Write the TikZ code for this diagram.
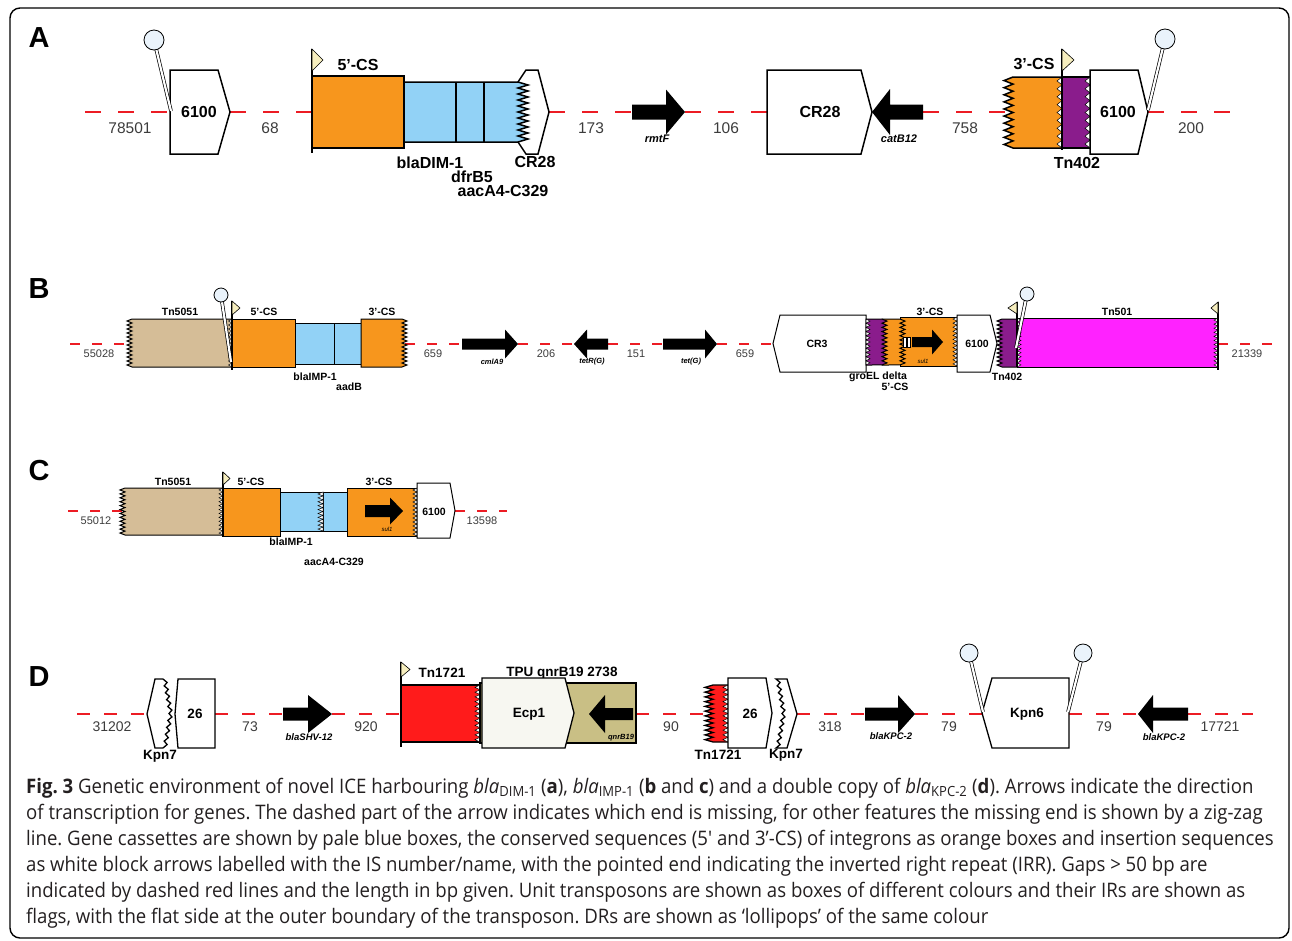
\documentclass[tikz,border=0pt]{standalone}
\usepackage{fontspec}
\setmainfont{Liberation Sans}
\newfontfamily\capfont[FakeStretch=0.93]{Open Sans}

\definecolor{gapred}{HTML}{EC1C24}
\definecolor{csorange}{HTML}{F7961D}
\definecolor{casblue}{HTML}{92D2F6}
\definecolor{tnpurple}{HTML}{8A1C8C}
\definecolor{tnmagenta}{HTML}{FF22FF}
\definecolor{tntan}{HTML}{D5BD97}
\definecolor{tnred}{HTML}{FF1B1B}
\definecolor{tpuolive}{HTML}{C9BF85}
\definecolor{flagyellow}{HTML}{F6EEBE}
\definecolor{lollifill}{HTML}{EAF3FB}
\definecolor{ecpwhite}{HTML}{F7F7F1}
\definecolor{numgray}{HTML}{3C3C3C}
\definecolor{capgray}{HTML}{231F20}

\tikzset{
  gapA/.style={draw=gapred, line width=2.4pt, dash pattern=on 16pt off 17pt},
  gapB/.style={draw=gapred, line width=1.8pt, dash pattern=on 10pt off 12pt},
  gapD/.style={draw=gapred, line width=2.4pt, dash pattern=on 13pt off 14pt},
  csbox/.style={fill=csorange, draw=black},
  cassette/.style={fill=casblue, draw=black},
  isst/.style={fill=white, draw=black},
  genest/.style={fill=black},
  teethst/.style={fill=white, draw=black, line width=0.5pt},
  flagpole/.style={draw=black, line width=1.6pt},
  flagst/.style={fill=flagyellow, draw=black, line width=0.6pt},
  lollistick/.style={draw=black, double=white, double distance=2.2pt, line width=0.7pt},
  lollist/.style={fill=lollifill, draw=black, line width=0.8pt},
  panel/.style={font=\fontsize{29}{31}\selectfont\bfseries},
  lblA/.style={font=\fontsize{16}{18}\selectfont\bfseries},
  numA/.style={font=\fontsize{15.5}{17}\selectfont, text=numgray},
  geneA/.style={font=\fontsize{11}{12}\selectfont\bfseries\itshape},
  lblB/.style={font=\fontsize{10.5}{12}\selectfont\bfseries},
  numB/.style={font=\fontsize{11}{12}\selectfont, text=numgray},
  geneB/.style={font=\fontsize{7.5}{8}\selectfont\bfseries\itshape},
  lblD/.style={font=\fontsize{13.5}{15}\selectfont\bfseries},
  numD/.style={font=\fontsize{14}{16}\selectfont, text=numgray},
  geneD/.style={font=\fontsize{9.5}{10}\selectfont\bfseries\itshape},
  captext/.style={font=\capfont\fontsize{20}{26}\selectfont\frenchspacing, text=capgray, align=left}
}

% zigzag edge: amplitude, half step, teeth
\newcommand{\zz}[3]{\foreach \k in {1,...,#3}{ -- ++(#1,#2) -- ++({-(#1)},#2)}}
% slanted zigzag: amplitude, half step, teeth, slant
\newcommand{\zzs}[4]{\foreach \k in {1,...,#3}{ -- ++({#1+#4},#2) -- ++({-(#1)+#4},#2)}}
\newcommand{\teeth}[5]{\filldraw[teethst] (#1,#2) \zz{#4}{#5}{#3} -- cycle;}
\newcommand{\isel}[6][]{\filldraw[isst,#1] (#2,#5) -- (#3,#5) -- (#4,{(#5+#6)/2}) -- (#3,#6) -- (#2,#6) -- cycle;}
\newcommand{\gene}[6]{\fill[genest] (#1,{#4-#5}) -- (#2,{#4-#5}) -- (#2,{#4-#6}) -- (#3,#4) -- (#2,{#4+#6}) -- (#2,{#4+#5}) -- (#1,{#4+#5}) -- cycle;}
\newcommand{\flag}[5]{\draw[flagpole] (#1,#2) -- (#1,#3); \filldraw[flagst] (#1,#2) -- ++(#4,{#5/2}) -- ++({-(#4)},{#5/2}) -- cycle;}
\newcommand{\lolli}[5]{\draw[lollistick] (#1,#2) -- (#3,#4); \filldraw[lollist] (#3,#4) circle (#5pt);}

\begin{document}
\begin{tikzpicture}[x=1pt,y=-1pt]
  \useasboundingbox (0,0) rectangle (1292,940);
  \draw[line width=1.4pt, rounded corners=10pt] (10,8) rectangle (1289,938);

  % ---- A ----
  \node[panel] (pA) at (39,38) {A};
  \coordinate (a0) at (85,112);   \coordinate (a1) at (171,112);
  \coordinate (a2) at (230,112);  \coordinate (a3) at (312,112);
  \coordinate (a4) at (549,112);  \coordinate (a5) at (632,112);
  \coordinate (a6) at (685,112);  \coordinate (a7) at (767,112);
  \coordinate (a8) at (923,112);  \coordinate (a9) at (1005,112);
  \coordinate (a10) at (1148,112); \coordinate (a11) at (1230,112);
  \draw[gapA] (a0) -- (a1);
  \draw[gapA] (a2) -- (a3);
  \draw[gapA] (a4) -- (a5);
  \draw[gapA] (a6) -- (a7);
  \draw[gapA] (a8) -- (a9);
  \draw[gapA] (a10) -- (a11);
  \node[numA] (nA1) at (130,128) {78501};
  \node[numA] (nA2) at (270,128) {68};
  \node[numA] (nA3) at (591,128) {173};
  \node[numA] (nA4) at (726,128) {106};
  \node[numA] (nA5) at (965,128) {758};
  \node[numA] (nA6) at (1191,128) {200};

  \begin{scope}[line width=1.5pt]
    \isel{170}{218}{230}{70}{154}
    \lolli{171}{111}{154}{40}{10}
    \filldraw[csbox] (312,76) rectangle (404,148);
    \flag{312}{49}{153}{11}{22}
    \filldraw[isst] (518,82) -- (526,70) -- (538,70) -- (549,112) -- (538,154) -- (526,154) -- (518,142) -- cycle;
    \filldraw[cassette] (404,82) -- (518,82) \zz{10}{3}{10} -- (404,142) -- cycle;
    \draw (456,82) -- (456,142);
    \draw (484,82) -- (484,142);
    \gene{632}{666}{685}{112}{7.5}{22.5}
    \isel{767}{861}{872}{70}{154}
    \gene{923}{890}{872}{112}{7.5}{23}
    \filldraw[csbox] (1062,77) -- (1013,77) \zz{-9}{3.55}{10} -- (1062,148) -- cycle;
    \teeth{1062}{77}{9}{-5}{3.944}
    \filldraw[fill=tnpurple] (1062,77) rectangle (1090,148);
    \teeth{1090}{77}{9}{-5}{3.944}
    \flag{1062}{49}{150}{12}{22}
    \isel{1090}{1138}{1148}{70}{154}
    \lolli{1148}{110}{1165}{39}{10}
  \end{scope}
  \node[lblA] (isA1) at (199,112) {6100};
  \node[lblA] (csA1) at (358,65) {5'-CS};
  \node[lblA] (gcA1) at (430,163) {blaDIM-1};
  \node[lblA] (gcA2) at (472,177) {dfrB5};
  \node[lblA] (gcA3) at (503,191) {aacA4-C329};
  \node[lblA] (gcA4) at (535,162) {CR28};
  \node[geneA] (gA1) at (657,139) {rmtF};
  \node[lblA] (isA2) at (820,112) {CR28};
  \node[geneA] (gA2) at (899,139) {catB12};
  \node[lblA] (csA2) at (1034,64) {3'-CS};
  \node[lblA] (tnA1) at (1077,163) {Tn402};
  \node[lblA] (isA3) at (1118,112) {6100};

  % ---- B ----
  \node[panel] (pB) at (39,289) {B};
  \coordinate (b0) at (70,344);   \coordinate (b1) at (128,344);
  \coordinate (b2) at (405,344);  \coordinate (b3) at (462,344);
  \coordinate (b4) at (518,344);  \coordinate (b5) at (574,344);
  \coordinate (b6) at (608,344);  \coordinate (b7) at (663,344);
  \coordinate (b8) at (717,344);  \coordinate (b9) at (773,344);
  \coordinate (b10) at (1218,344); \coordinate (b11) at (1275,344);
  \draw[gapB] (b0) -- (b1);
  \draw[gapB] (b2) -- (b3);
  \draw[gapB] (b4) -- (b5);
  \draw[gapB] (b6) -- (b7);
  \draw[gapB] (b8) -- (b9);
  \draw[gapB] (b10) -- (b11);
  \node[numB] (nB1) at (99,354) {55028};
  \node[numB] (nB2) at (433,354) {659};
  \node[numB] (nB3) at (546,354) {206};
  \node[numB] (nB4) at (636,354) {151};
  \node[numB] (nB5) at (745,354) {659};
  \node[numB] (nB6) at (1247,354) {21339};

  \begin{scope}[line width=1pt]
    \filldraw[fill=tntan] (232,319) -- (132,319) \zz{-5}{2}{12} -- (232,367) -- cycle;
    \teeth{232}{319}{12}{-3.5}{2}
    \filldraw[csbox] (232,319) rectangle (295,367);
    \filldraw[cassette] (295,323) rectangle (361,364);
    \draw (334,323) -- (334,364);
    \filldraw[csbox] (361,319) -- (402,319) \zz{5}{2}{12} -- (361,367) -- cycle;
    \flag{232}{301}{370}{8}{14}
    \lolli{231}{362}{221}{295}{7}
    \gene{462}{505}{518}{344}{5.5}{14.5}
    \gene{608}{587}{574}{344}{5.5}{14.5}
    \gene{663}{705}{717}{344}{5.5}{14.5}
    \isel{866}{780}{773}{315}{372}
    \filldraw[csbox] (900,317) rectangle (957,366);
    \filldraw[csbox] (882,319) -- (900,319) \zz{5}{2.09}{11} -- (882,365) -- cycle;
    \filldraw[fill=tnpurple] (866,319) -- (882,319) \zz{5}{2.09}{11} -- (866,365) -- cycle;
    \teeth{866}{319}{11}{4}{2.09}
    \teeth{957}{317}{12}{-4}{2.04}
    \filldraw[fill=white, line width=0.6pt] (903,337) rectangle (906,347);
    \filldraw[fill=white, line width=0.6pt] (907.5,337) rectangle (910.5,347);
    \gene{912}{932}{943}{342}{5}{12.5}
    \isel{957}{990}{997}{315}{372}
    \filldraw[fill=tnpurple] (1017,319) -- (1002,319) \zz{-5}{2}{12} -- (1017,367) -- cycle;
    \filldraw[fill=tnmagenta] (1017,318) rectangle (1218,367);
    \teeth{1017}{318}{12}{4}{2.04}
    \teeth{1218}{318}{12}{-4}{2.04}
    \flag{1017}{302}{367}{-9}{12}
    \flag{1218}{302}{370}{-7}{12}
    \lolli{1016}{348}{1027}{294}{7}
  \end{scope}
  \node[lblB] (tnB1) at (180,312) {Tn5051};
  \node[lblB] (csB1) at (264,312) {5'-CS};
  \node[lblB] (csB2) at (382,312) {3'-CS};
  \node[lblB] (gcB1) at (315,377) {blaIMP-1};
  \node[lblB] (gcB2) at (349,387) {aadB};
  \node[geneB] (gB1) at (492,362) {cmlA9};
  \node[geneB] (gB2) at (592,362) {tetR(G)};
  \node[geneB] (gB3) at (691,362) {tet(G)};
  \node[lblB] (isB1) at (817,344) {CR3};
  \node[lblB] (tnB2) at (878,377) {groEL delta};
  \node[lblB] (csB3) at (895,387) {5'-CS};
  \node[lblB] (csB4) at (930,312) {3'-CS};
  \node[geneB, font=\fontsize{6}{7}\selectfont\itshape] (gB4) at (923,361) {sul1};
  \node[lblB] (isB2) at (977,344) {6100};
  \node[lblB] (tnB3) at (1007,377) {Tn402};
  \node[lblB] (tnB4) at (1117,312) {Tn501};

  % ---- C ----
  \node[panel] (pC) at (39,471) {C};
  \coordinate (c0) at (68,511);  \coordinate (c1) at (124,511);
  \coordinate (c2) at (455,511); \coordinate (c3) at (507,511);
  \draw[gapB] (c0) -- (c1);
  \draw[gapB] (c2) -- (c3);
  \node[numB] (nC1) at (96,521) {55012};
  \node[numB] (nC2) at (482,521) {13598};

  \begin{scope}[line width=1pt]
    \filldraw[fill=tntan] (223,488) -- (125,488) \zz{-5}{1.958}{12} -- (223,535) -- cycle;
    \teeth{223}{488}{12}{-4}{1.958}
    \filldraw[csbox] (223,488) rectangle (280,536);
    \filldraw[cassette] (280,492) rectangle (323,531);
    \filldraw[cassette] (323,492) rectangle (347,531);
    \teeth{323}{492}{10}{-5}{1.95}
    \filldraw[csbox] (347,488) rectangle (417,536);
    \teeth{417}{488}{12}{-4}{2}
    \flag{223}{472}{537}{7}{13}
    \gene{365}{390}{403}{511}{6}{13.5}
    \isel{417}{450}{455}{483}{538}
  \end{scope}
  \node[lblB] (tnC1) at (173,482) {Tn5051};
  \node[lblB] (csC1) at (251,482) {5'-CS};
  \node[lblB] (csC2) at (379,482) {3'-CS};
  \node[lblB] (gcC1) at (291,542) {blaIMP-1};
  \node[lblB] (gcC2) at (334,562) {aacA4-C329};
  \node[geneB, font=\fontsize{6}{7}\selectfont\itshape] (gC1) at (387,529) {sul1};
  \node[lblB] (isC1) at (434,512) {6100};

  % ---- D ----
  \node[panel] (pD) at (39,677) {D};
  \coordinate (d0) at (77,714);   \coordinate (d1) at (147,714);
  \coordinate (d2) at (215,714);  \coordinate (d3) at (283,714);
  \coordinate (d4) at (332,714);  \coordinate (d5) at (400,714);
  \coordinate (d6) at (636,714);  \coordinate (d7) at (705,714);
  \coordinate (d8) at (797,714);  \coordinate (d9) at (865,714);
  \coordinate (d10) at (915,714); \coordinate (d11) at (982,714);
  \coordinate (d12) at (1069,714); \coordinate (d13) at (1138,714);
  \coordinate (d14) at (1188,714); \coordinate (d15) at (1253,714);
  \draw[gapD] (d0) -- (d1);
  \draw[gapD] (d2) -- (d3);
  \draw[gapD] (d4) -- (d5);
  \draw[gapD] (d6) -- (d7);
  \draw[gapD] (d8) -- (d9);
  \draw[gapD] (d10) -- (d11);
  \draw[gapD] (d12) -- (d13);
  \draw[gapD] (d14) -- (d15);
  \node[numD] (nD1) at (112,727) {31202};
  \node[numD] (nD2) at (250,727) {73};
  \node[numD] (nD3) at (366,727) {920};
  \node[numD] (nD4) at (671,727) {90};
  \node[numD] (nD5) at (830,727) {318};
  \node[numD] (nD6) at (949,727) {79};
  \node[numD] (nD7) at (1104,727) {79};
  \node[numD] (nD8) at (1220,727) {17721};
  \node[lblD] (tpD1) at (562,673) {TPU qnrB19 2738};

  \begin{scope}[line width=1.3pt]
    \filldraw[isst] (178,679) -- (215,679) -- (215,748) -- (178,748) -- (175,714) -- cycle;
    \filldraw[isst] (147,714) -- (155,679) -- (163,679) \zzs{3.5}{3.45}{5}{0.6} \zzs{3.5}{3.45}{5}{-0.6} -- (155,748) -- cycle;
    \gene{283}{308}{332}{714}{6.5}{19}
    \filldraw[fill=tnred] (401,685) rectangle (480,742);
    \teeth{480}{685}{12}{-5}{2.375}
    \flag{401}{662}{747}{9}{15}
    \filldraw[fill=tpuolive] (480,683) rectangle (636,743);
    \isel[fill=ecpwhite]{482}{565}{574}{678}{748}
    \gene{633}{605}{589}{714}{6}{19}
    \filldraw[fill=tnred] (728,685) -- (713,685) \zz{-8}{2.375}{12} -- (728,742) -- cycle;
    \teeth{728}{685}{12}{-5}{2.375}
    \isel{728}{766}{772}{678}{748}
    \filldraw[isst] (787,679) -- (797,714) -- (787,748) -- (776,748) \zzs{3.5}{-3.45}{5}{0.6} \zzs{3.5}{-3.45}{5}{-0.6} -- cycle;
    \gene{865}{898}{915}{714}{6.5}{19}
    \isel{1069}{992}{982}{678}{748}
    \lolli{983}{712}{969}{653}{9}
    \lolli{1068}{712}{1083}{653}{9}
    \gene{1188}{1153}{1138}{714}{6.5}{19}
  \end{scope}
  \node[lblD] (isD1) at (195,714) {26};
  \node[lblD] (isD2) at (160,756) {Kpn7};
  \node[geneD] (gD1) at (309,737) {blaSHV-12};
  \node[lblD] (tnD1) at (442,673) {Tn1721};
  \node[lblD] (isD3) at (529,714) {Ecp1};
  \node[geneD, font=\fontsize{7.5}{8}\selectfont\bfseries\itshape] (gD2) at (621,738) {qnrB19};
  \node[lblD] (tnD2) at (718,755) {Tn1721};
  \node[lblD] (isD4) at (750,714) {26};
  \node[lblD] (isD5) at (786,755) {Kpn7};
  \node[geneD] (gD3) at (891,736) {blaKPC-2};
  \node[lblD] (isD6) at (1027,714) {Kpn6};
  \node[geneD] (gD4) at (1164,737) {blaKPC-2};

  % ---- caption ----
  \node[captext, anchor=north west, inner sep=0pt] (cap) at (26,778) {%
    \textbf{Fig. 3} Genetic environment of novel ICE harbouring \textit{bla}\textsubscript{DIM-1} (\textbf{a}), \textit{bla}\textsubscript{IMP-1} (\textbf{b} and \textbf{c}) and a double copy of \textit{bla}\textsubscript{KPC-2} (\textbf{d}). Arrows indicate the direction\\
    of transcription for genes. The dashed part of the arrow indicates which end is missing, for other features the missing end is shown by a zig-zag\\
    line. Gene cassettes are shown by pale blue boxes, the conserved sequences (5' and 3’-CS) of integrons as orange boxes and insertion sequences\\
    as white block arrows labelled with the IS number/name, with the pointed end indicating the inverted right repeat (IRR). Gaps > 50 bp are\\
    indicated by dashed red lines and the length in bp given. Unit transposons are shown as boxes of different colours and their IRs are shown as\\
    flags, with the flat side at the outer boundary of the transposon. DRs are shown as ‘lollipops’ of the same colour};
\end{tikzpicture}
\end{document}
